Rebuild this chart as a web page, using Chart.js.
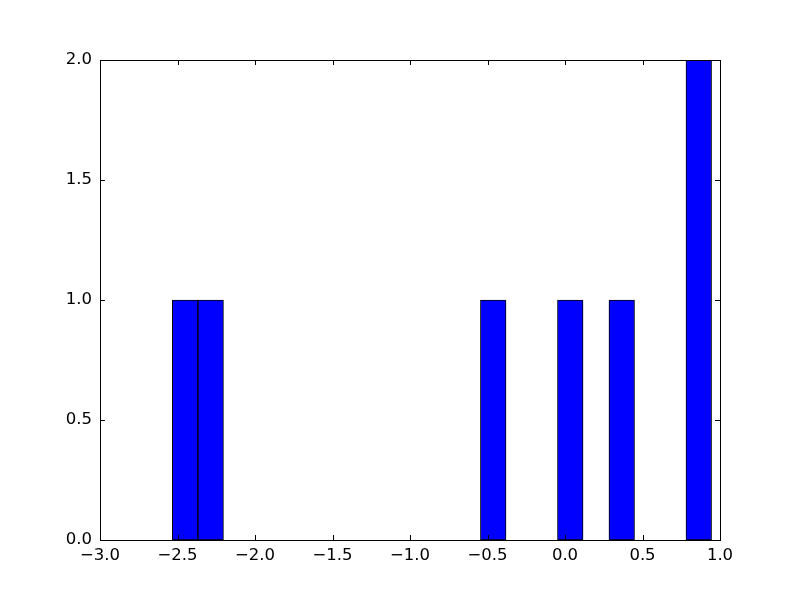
<!DOCTYPE html>
<html>
<head>
<meta charset="utf-8">
<script src="https://cdn.jsdelivr.net/npm/chart.js@4"></script>
<style>
html,body{margin:0;padding:0;background:#fff;}
#wrap{width:800px;height:600px;}
</style>
</head>
<body>
<div id="wrap"><canvas id="c" width="800" height="600"></canvas></div>
<script>
// Histogram bin centers (21 bins, width ~0.166) and counts
const binCenters = [-2.451, -2.286, -2.120, -1.954, -1.788, -1.623, -1.457, -1.291, -1.126, -0.960, -0.794, -0.629, -0.463, -0.297, -0.131, 0.034, 0.200, 0.366, 0.531, 0.697, 0.863];
const counts     = [1, 1, 0, 0, 0, 0, 0, 0, 0, 0, 0, 0, 1, 0, 0, 1, 0, 1, 0, 0, 2];
const xTicks = [-3.0, -2.5, -2.0, -1.5, -1.0, -0.5, 0.0, 0.5, 1.0];
const yTicks = [0.0, 0.5, 1.0, 1.5, 2.0];

const fmt = v => Number(v).toFixed(1).replace('-', '\u2212');
const FONT = {family: 'DejaVu Sans', size: 16.5};

const frame = {
  id: 'frame',
  afterDatasetsDraw(chart) {
    const {ctx, chartArea: a, scales: {x, y}} = chart;
    ctx.save();
    ctx.strokeStyle = '#000';
    ctx.lineWidth = 1;
    const L = 5;
    ctx.beginPath();
    xTicks.forEach(v => {
      const px = Math.round(x.getPixelForValue(v)) + 0.5;
      ctx.moveTo(px, a.bottom); ctx.lineTo(px, a.bottom - L);
      ctx.moveTo(px, a.top); ctx.lineTo(px, a.top + L);
    });
    yTicks.forEach(v => {
      const py = Math.round(y.getPixelForValue(v)) + 0.5;
      ctx.moveTo(a.left, py); ctx.lineTo(a.left + L, py);
      ctx.moveTo(a.right, py); ctx.lineTo(a.right - L, py);
    });
    ctx.stroke();
    ctx.strokeRect(a.left + 0.5, a.top + 0.5, a.right - a.left, a.bottom - a.top);
    ctx.restore();
  }
};

new Chart(document.getElementById('c'), {
  type: 'bar',
  data: {
    datasets: [{
      data: binCenters.map((c, i) => ({x: c, y: counts[i]})),
      backgroundColor: '#0000ff',
      borderColor: '#000000',
      borderWidth: 1,
      borderSkipped: false,
      barPercentage: 1.0,
      categoryPercentage: 1.0
    }]
  },
  options: {
    responsive: false,
    animation: false,
    devicePixelRatio: 1,
    layout: {padding: {top: 60, right: 80, left: 0, bottom: 0}},
    plugins: {legend: {display: false}, tooltip: {enabled: false}},
    scales: {
      x: {
        type: 'linear',
        min: -3, max: 1,
        offset: false,
        grid: {display: false, drawTicks: false},
        border: {display: false},
        afterBuildTicks: s => { s.ticks = xTicks.map(v => ({value: v})); },
        afterFit: s => { s.height = 60; },
        ticks: {color: '#000', font: FONT, padding: 6, maxRotation: 0, autoSkip: false, callback: v => fmt(v)}
      },
      y: {
        type: 'linear',
        min: 0, max: 2,
        grid: {display: false, drawTicks: false},
        border: {display: false},
        afterBuildTicks: s => { s.ticks = yTicks.map(v => ({value: v})); },
        afterFit: s => { s.width = 100; },
        ticks: {color: '#000', font: FONT, padding: 8, autoSkip: false, callback: v => fmt(v)}
      }
    }
  },
  plugins: [frame]
});
</script>
</body>
</html>
